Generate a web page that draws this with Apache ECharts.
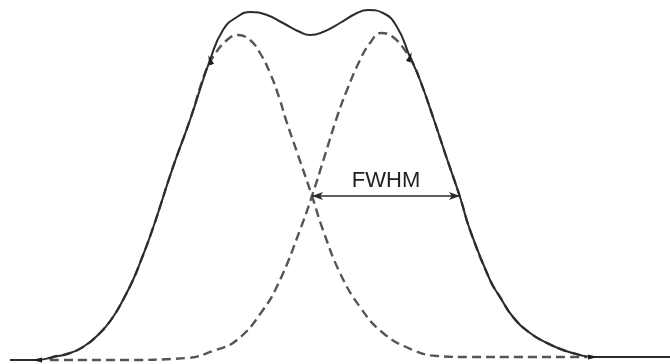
<!DOCTYPE html>
<html>
<head>
<meta charset="utf-8">
<title>FWHM</title>
<script src="https://cdn.jsdelivr.net/npm/echarts@6/dist/echarts.min.js"></script>
<style>
  html, body { margin: 0; padding: 0; background: #fff; }
  #chart { width: 670px; height: 364px; }
</style>
</head>
<body>
<div id="chart"></div>
<script>
// Measured profile: [position, intensity]
const sumProfile = [
  [10, 0], [37, 0], [53, 3], [67, 6], [83, 13], [100, 27], [113, 43], [123, 60],
  [133, 80], [140, 97], [153, 132], [173, 193], [190, 240], [210, 300], [223, 330],
  [237, 343], [251, 348], [267, 345], [283, 337], [300, 328], [310, 325], [323, 328],
  [340, 337], [357, 347], [368, 350], [383, 347], [397, 333], [410, 303], [420, 280],
  [433, 243], [446, 204], [460, 163], [470, 130], [490, 80], [500, 63], [513, 43],
  [530, 27], [547, 17], [563, 10], [580, 5], [593, 3], [620, 3], [670, 3]
];

// Left component peak
const leftPeak = [
  [50, 0], [53, 3], [67, 6], [83, 13], [100, 27], [113, 43], [123, 60], [133, 80],
  [140, 97], [153, 132], [173, 193], [190, 240], [205, 287], [213, 303], [227, 320],
  [238, 325], [250, 320], [260, 307], [270, 287], [280, 260], [285, 243], [298, 205],
  [312, 164], [323, 130], [340, 87], [360, 53], [383, 27], [413, 10], [437, 4],
  [470, 3], [520, 3], [587, 3]
];

// Right component peak
const rightPeak = [
  [50, 0], [120, 0], [187, 2], [213, 9], [237, 20], [263, 50], [280, 80], [300, 130],
  [312, 164], [325, 205], [337, 243], [347, 270], [360, 300], [370, 317], [381, 327],
  [393, 323], [407, 307], [413, 297], [420, 280], [433, 243], [446, 204], [460, 163],
  [470, 130], [490, 80], [500, 63], [513, 43], [530, 27], [547, 17], [563, 10],
  [580, 5], [587, 3]
];

// Full width at half maximum marker
const fwhmFrom = 312;
const fwhmTo = 460;
const fwhmLevel = 164;
const fwhmText = 'FWHM';

// Junction points on the sum curve (indices into sumProfile)
const junctionIdx = [1, 13, 27, 40];
const junctionAngle = [90, 20, -20, -90];

const chart = echarts.init(document.getElementById('chart'), null, { renderer: 'canvas' });

const dashStyle = { color: '#555555', width: 2.4, type: [9, 5] };

chart.setOption({
  animation: false,
  backgroundColor: '#ffffff',
  grid: { left: 0, right: 0, top: 0, bottom: 0 },
  xAxis: { type: 'value', min: 0, max: 670, show: false },
  yAxis: { type: 'value', min: -4, max: 360, show: false },
  series: [
    {
      type: 'line', data: leftPeak, smooth: 0.45, symbol: 'none', clip: false,
      lineStyle: dashStyle, z: 2
    },
    {
      type: 'line', data: rightPeak, smooth: 0.45, symbol: 'none', clip: false,
      lineStyle: dashStyle, z: 2
    },
    {
      type: 'line', data: sumProfile, smooth: 0.5, symbol: 'none', clip: false,
      lineStyle: { color: '#2b2b2b', width: 2 }, z: 3,
      markPoint: {
        silent: true,
        symbol: 'triangle',
        symbolSize: [5, 10],
        itemStyle: { color: '#1e1e1e' },
        label: { show: false },
        data: junctionIdx.map((i, k) => ({
          coord: sumProfile[i], symbolRotate: junctionAngle[k]
        }))
      },
      markLine: {
        silent: true,
        symbol: ['arrow', 'arrow'],
        symbolSize: [6, 11],
        lineStyle: { color: '#2b2b2b', width: 1.6, type: 'solid' },
        label: {
          show: true, position: 'middle', distance: 4,
          formatter: fwhmText, color: '#222', fontSize: 22,
          fontFamily: 'Liberation Sans, Arial, sans-serif'
        },
        data: [[
          { coord: [fwhmFrom, fwhmLevel] },
          { coord: [fwhmTo, fwhmLevel] }
        ]]
      }
    }
  ]
});
</script>
</body>
</html>
